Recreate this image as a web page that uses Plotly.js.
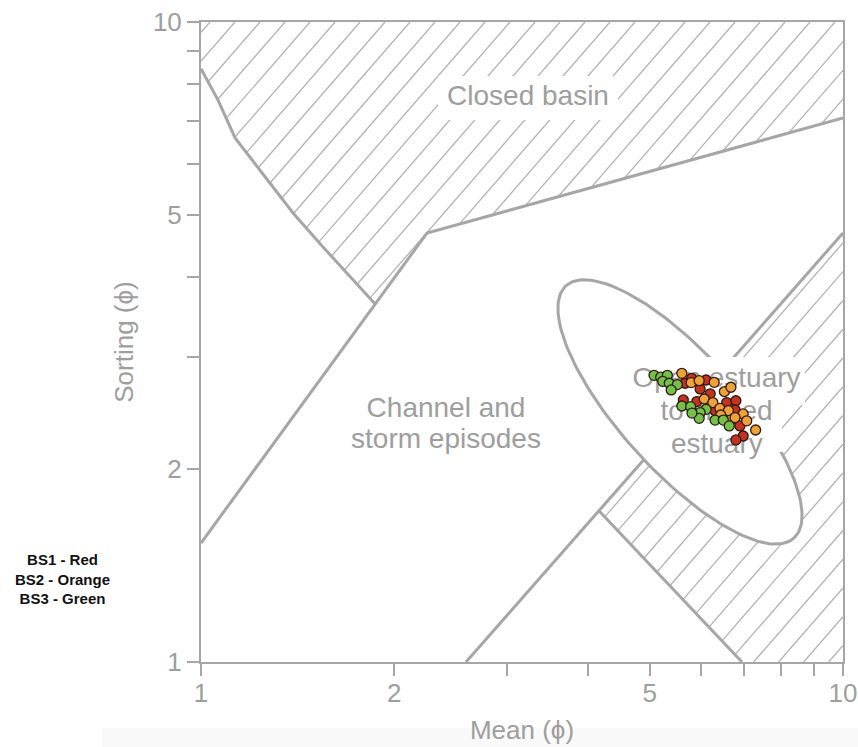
<!DOCTYPE html>
<html><head><meta charset="utf-8">
<script src="https://cdn.plot.ly/plotly-3.0.1.min.js"></script>
<style>body{margin:0;background:#fff}#chart{width:858px;height:747px}</style>
</head><body><div id="chart"></div>
<script>
// ---------- Region boundaries (Mean phi, Sorting phi) ----------
const closedBasinCurveX = [1, 1.063, 1.13, 1.236, 1.391, 1.549, 1.866];
const closedBasinCurveY = [8.45, 7.55, 6.59, 5.87, 5.03, 4.45, 3.63];
const channelUpperX = [1, 2.249, 10];
const channelUpperY = [1.534, 4.68, 7.08];
const estuaryLowerX = [2.587, 10];
const estuaryLowerY = [1, 4.68];
const tidalLineX = [4.17, 6.96];
const tidalLineY = [1.722, 1];

// ---------- Samples ----------
const bs1X = [5.675, 5.81, 6.12, 5.99, 6.21, 5.64, 5.92, 6.59, 6.81, 6.32, 6.79, 6.57, 6.91, 6.99, 6.81];
const bs1Y = [2.726, 2.775, 2.758, 2.671, 2.624, 2.567, 2.552, 2.543, 2.560, 2.470, 2.476, 2.412, 2.338, 2.255, 2.223];
const bs2X = [5.61, 5.80, 5.97, 6.30, 6.535, 6.69, 6.08, 6.27, 6.43, 6.63, 6.45, 6.99, 6.68, 6.79, 7.08, 7.31];
const bs2Y = [2.825, 2.733, 2.752, 2.735, 2.646, 2.687, 2.576, 2.543, 2.491, 2.470, 2.432, 2.441, 2.388, 2.409, 2.381, 2.304];
const bs3X = [5.077, 5.20, 5.326, 5.238, 5.363, 5.52, 5.40, 5.61, 5.79, 6.12, 5.99, 5.97, 6.32, 6.51, 6.65, 5.817];
const bs3Y = [2.805, 2.786, 2.805, 2.745, 2.726, 2.713, 2.661, 2.512, 2.506, 2.482, 2.453, 2.403, 2.388, 2.388, 2.338, 2.449];

// ---------- Labels ----------
const regionLabels = ['Closed basin', 'Channel and', 'storm episodes', 'Open estuary', 'to closed', 'estuary'];
const regionLabelX = [3.231, 2.408, 2.408, 6.353, 6.353, 6.36];
const regionLabelY = [7.61, 2.477, 2.214, 2.758, 2.449, 2.175];
const tickVals = [1, 2, 3, 4, 5, 6, 7, 8, 9, 10];
const tickText = ['1', '2', '', '', '5', '', '', '', '', '10'];

// ---------- Geometry helpers ----------
const SX = 642, SY = 640;
const ELLIPSE = {cx: 5.573, cy: 2.459, a: 0.2652, b: 0.092, angle: -47.9};
const closedBasinPolyX = [1, 10, 10, 2.249].concat(closedBasinCurveX.slice().reverse());
const closedBasinPolyY = [10, 10, 7.08, 4.68].concat(closedBasinCurveY.slice().reverse());
const tidalPolyX = [4.17, 10, 10, 6.96];
const tidalPolyY = [1.722, 4.68, 1, 1];
const basinBoxX = [2.34, 4.462, 4.462, 2.34];
const basinBoxY = [8.234, 8.234, 7.029, 7.029];
const estuaryBoxX = [4.657, 8.727, 8.727, 8.035, 8.035, 5.339, 5.339, 4.657];
const estuaryBoxY = [2.996, 2.996, 2.521, 2.521, 2.129, 2.129, 2.614, 2.614];

function hatch(px, py, angDeg, hStep, phaseX) {
  const a = angDeg * Math.PI / 180;
  const dx = Math.cos(a), dy = Math.sin(a);
  const nx = -dy, ny = dx;
  const P = px.map((x, i) => [Math.log10(x) * SX, Math.log10(py[i]) * SY]);
  const s = hStep * Math.sin(a);
  const ks = P.map(p => nx * p[0] + ny * p[1]);
  const kmin = Math.min(...ks), kmax = Math.max(...ks);
  const k0 = nx * phaseX + ny * SY;
  const outX = [], outY = [];
  for (let k = k0 + Math.ceil((kmin - k0) / s) * s; k <= kmax; k += s) {
    const ts = [];
    for (let i = 0; i < P.length; i++) {
      const p = P[i], q = P[(i + 1) % P.length];
      const sp = nx * p[0] + ny * p[1] - k, sq = nx * q[0] + ny * q[1] - k;
      if ((sp < 0) !== (sq < 0)) {
        const f = sp / (sp - sq);
        const X = p[0] + f * (q[0] - p[0]), Y = p[1] + f * (q[1] - p[1]);
        ts.push(dx * X + dy * Y);
      }
    }
    ts.sort((u, v) => u - v);
    for (let j = 0; j + 1 < ts.length; j += 2) {
      outX.push(Math.pow(10, (k * nx + ts[j] * dx) / SX), Math.pow(10, (k * nx + ts[j + 1] * dx) / SX), null);
      outY.push(Math.pow(10, (k * ny + ts[j] * dy) / SY), Math.pow(10, (k * ny + ts[j + 1] * dy) / SY), null);
    }
  }
  return {x: outX, y: outY};
}
function ellipsePts(e) {
  const cX = Math.log10(e.cx) * SX, cY = Math.log10(e.cy) * SY;
  const A = e.a * 641, B = e.b * 641, th = e.angle * Math.PI / 180;
  const xs = [], ys = [];
  for (let i = 0; i <= 180; i++) {
    const t = i / 180 * 2 * Math.PI;
    const X = cX + A * Math.cos(t) * Math.cos(th) - B * Math.sin(t) * Math.sin(th);
    const Y = cY + A * Math.cos(t) * Math.sin(th) + B * Math.sin(t) * Math.cos(th);
    xs.push(Math.pow(10, X / SX)); ys.push(Math.pow(10, Y / SY));
  }
  return {x: xs, y: ys};
}

const GRAY = '#a6a6a6';
const TXT = '#9e9e9e';
const FONT = 'Liberation Sans, Arial, Helvetica, sans-serif';
const h1 = hatch(closedBasinPolyX, closedBasinPolyY, 49, 25, 9);
const h2 = hatch(tidalPolyX, tidalPolyY, 49, 25, 9);
const ell = ellipsePts(ELLIPSE);
const lineStyle = {color: GRAY, width: 3};
const base = {type: 'scatter', hoverinfo: 'skip', showlegend: false};

const traces = [
  Object.assign({}, base, {x: h1.x.concat(h2.x), y: h1.y.concat(h2.y), mode: 'lines', line: {color: '#b2b2b2', width: 1.3}}),
  Object.assign({}, base, {x: basinBoxX, y: basinBoxY, mode: 'lines', fill: 'toself', fillcolor: '#ffffff', line: {width: 0, color: 'rgba(0,0,0,0)'}}),
  Object.assign({}, base, {x: closedBasinCurveX, y: closedBasinCurveY, mode: 'lines', line: lineStyle}),
  Object.assign({}, base, {x: channelUpperX, y: channelUpperY, mode: 'lines', line: lineStyle}),
  Object.assign({}, base, {x: estuaryLowerX, y: estuaryLowerY, mode: 'lines', line: lineStyle}),
  Object.assign({}, base, {x: tidalLineX, y: tidalLineY, mode: 'lines', line: lineStyle}),
  Object.assign({}, base, {x: ell.x, y: ell.y, mode: 'lines', fill: 'toself', fillcolor: '#ffffff', line: lineStyle}),
  Object.assign({}, base, {x: estuaryBoxX, y: estuaryBoxY, mode: 'lines', fill: 'toself', fillcolor: '#ffffff', line: {width: 0, color: 'rgba(0,0,0,0)'}}),
  Object.assign({}, base, {x: regionLabelX, y: regionLabelY, text: regionLabels, mode: 'text', textposition: 'middle center', textfont: {family: FONT, size: 28, color: TXT}}),
];
const mk = (c) => ({size: 10, color: c, line: {color: '#2b1a12', width: 1.3}});
traces.push(Object.assign({}, base, {x: bs1X, y: bs1Y, mode: 'markers', marker: mk('#c8301f'), name: 'BS1'}));
traces.push(Object.assign({}, base, {x: bs2X, y: bs2Y, mode: 'markers', marker: mk('#f2a233'), name: 'BS2'}));
traces.push(Object.assign({}, base, {x: bs3X, y: bs3Y, mode: 'markers', marker: mk('#74c244'), name: 'BS3'}));

const axisCommon = {
  type: 'log', range: [0, 1], showgrid: false, zeroline: false,
  showline: true, linecolor: GRAY, linewidth: 2, mirror: true,
  ticks: 'outside', ticklen: 12, tickwidth: 2, tickcolor: GRAY,
  tickmode: 'array', tickvals: tickVals, ticktext: tickText,
  tickfont: {family: FONT, size: 26, color: TXT}, fixedrange: true
};
const layout = {
  width: 858, height: 747,
  margin: {l: 201, r: 15, t: 22, b: 85},
  paper_bgcolor: '#ffffff', plot_bgcolor: '#ffffff',
  showlegend: false,
  xaxis: Object.assign({}, axisCommon, {ticklabelstandoff: -5, title: {text: 'Mean (ϕ)', font: {family: FONT, size: 26, color: TXT}, standoff: 14}}),
  yaxis: Object.assign({}, axisCommon, {title: {text: 'Sorting (ϕ)', font: {family: FONT, size: 26, color: TXT}, standoff: 12}}),
  shapes: [{type: 'rect', xref: 'paper', yref: 'paper', x0: -0.154, x1: 1.03, y0: -0.14, y1: -0.103, fillcolor: '#f9f9f9', line: {width: 0}, layer: 'below'}],
  annotations: [{
    xref: 'paper', yref: 'paper', x: -0.2165, y: 0.1297, xanchor: 'center', yanchor: 'middle', showarrow: false,
    text: '<b>BS1 - Red</b><br><b>BS2 - Orange</b><br><b>BS3 - Green</b>',
    font: {family: FONT, size: 15, color: '#111111'}, align: 'center'
  }]
};
Plotly.newPlot('chart', traces, layout, {staticPlot: true, displayModeBar: false});
</script>
</body></html>
